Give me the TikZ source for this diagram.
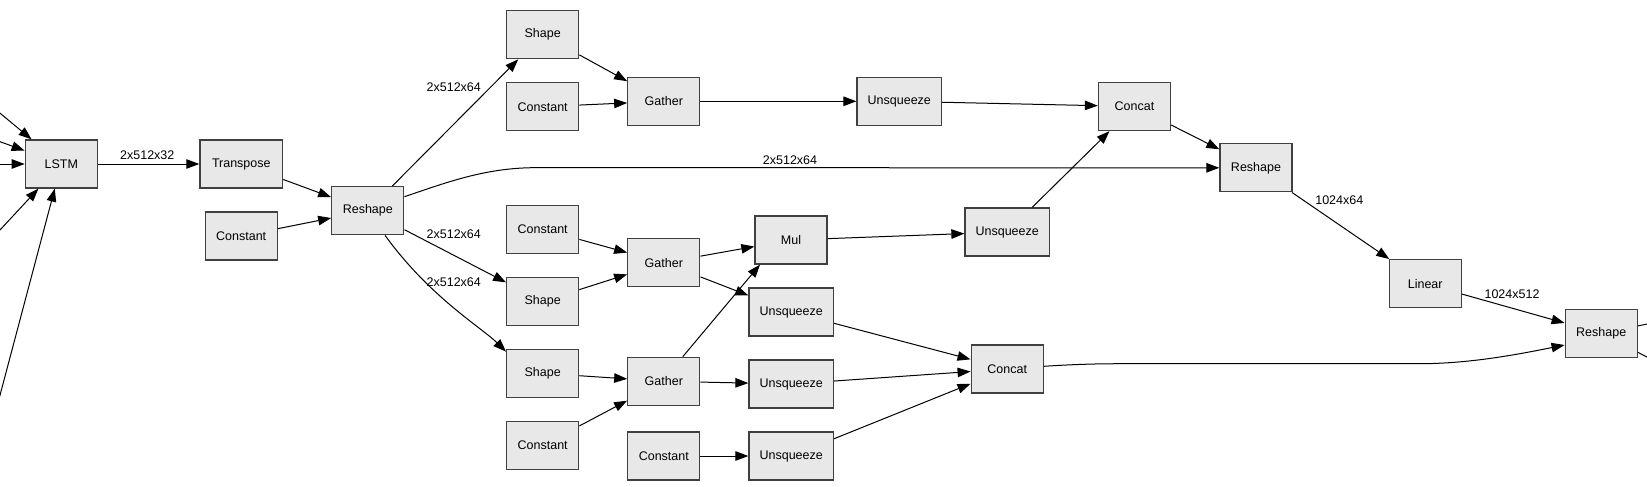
\documentclass[tikz,border=0pt]{standalone}
\usepackage{fontspec}
\setmainfont{Liberation Sans}
\usetikzlibrary{arrows.meta}
\definecolor{nodefill}{HTML}{E8E8E8}
\definecolor{nodeborder}{HTML}{404040}
\begin{document}
\begin{tikzpicture}[x=1pt,y=-1pt,
  box/.style={draw=nodeborder, fill=nodefill, line width=1.3pt, minimum width=72pt, minimum height=48pt, inner sep=0pt, font=\fontsize{12.5pt}{15pt}\selectfont},
  wide/.style={minimum width=84.4pt},
  lab/.style={inner sep=0pt, font=\fontsize{12.5pt}{15pt}\selectfont},
  edge/.style={draw=black, line width=1pt, -{Triangle[length=13pt,width=9.5pt]}},
  plainedge/.style={draw=black, line width=1pt}]
\useasboundingbox (0,0) rectangle (1647,487);
\clip (0,0) rectangle (1647,487);

% nodes
\node[box] (lstm) at (61.3,164) {LSTM};
\node[box, minimum width=82.7pt] (trans) at (241.3,164) {Transpose};
\node[box] (constL) at (241.2,236) {Constant};
\node[box] (resh1) at (367.8,210.7) {Reshape};
\node[box] (shapeT) at (542.7,34.7) {Shape};
\node[box] (constT) at (542.7,106.7) {Constant};
\node[box] (gathT) at (663.8,101.3) {Gather};
\node[box, wide] (unsqT) at (899.3,101.3) {Unsqueeze};
\node[box] (concT) at (1134.5,106.5) {Concat};
\node[box] (resh2) at (1256,167.8) {Reshape};
\node[box] (linear) at (1425.2,283.7) {Linear};
\node[box] (resh3) at (1601.2,333.3) {Reshape};
\node[box] (constM) at (542.7,229.3) {Constant};
\node[box] (gathM) at (663.8,262.7) {Gather};
\node[box] (mul) at (791,240) {Mul};
\node[box, wide] (unsqMR) at (1007.2,232) {Unsqueeze};
\node[box] (shapeM) at (542.7,301.3) {Shape};
\node[box, wide] (unsqBa) at (791.2,312) {Unsqueeze};
\node[box] (shapeL) at (542.7,373.3) {Shape};
\node[box] (gathL) at (663.8,381.3) {Gather};
\node[box, wide] (unsqBb) at (791.2,384) {Unsqueeze};
\node[box] (constLL) at (542.7,445.3) {Constant};
\node[box] (constB) at (663.8,456) {Constant};
\node[box, wide] (unsqBc) at (791.2,456) {Unsqueeze};
\node[box] (concL) at (1007.2,369) {Concat};

% off-canvas ends
\coordinate (inA) at (-40,80);
\coordinate (inB) at (-40,127.1);
\coordinate (inC) at (-40,164);
\coordinate (inD) at (-40,273);
\coordinate (inE) at (-40,546);
\coordinate (outA) at (1801,293);
\coordinate (outB) at (1801,437);

% edge labels
\node[lab] (l1) at (147.3,155.3) {2x512x32};
\node[lab] (l2) at (453.8,87.2) {2x512x64};
\node[lab] (l3) at (790,160) {2x512x64};
\node[lab] (l4) at (453.8,234.2) {2x512x64};
\node[lab] (l5) at (453.8,282.5) {2x512x64};
\node[lab] (l6) at (1339.3,200) {1024x64};
\node[lab] (l7) at (1512,294) {1024x512};

% edges
\draw[edge] (inA) -- (lstm);
\draw[edge] (inB) -- (lstm);
\draw[edge] (inC) -- (lstm);
\draw[edge] (inD) -- (lstm);
\draw[edge] (inE) -- (lstm);
\draw[edge] (lstm) -- (trans);
\draw[edge] (trans) -- (resh1);
\draw[edge] (constL) -- (resh1);
\draw[edge] (resh1) -- (shapeT);
\draw[edge] ([yshift=14pt]resh1.east) .. controls (445,183) and (485,167.7) .. (535,167.7) -- (resh2);
\draw[edge] (resh1) -- (shapeM);
\draw[edge] ([xshift=17.2pt]resh1.south) .. controls (430,297.3) and (481.5,327.5) .. ([yshift=-3pt]shapeL.north west);
\draw[edge] (shapeT) -- (gathT);
\draw[edge] (constT) -- (gathT);
\draw[edge] (gathT) -- (unsqT);
\draw[edge] (unsqT) -- (concT);
\draw[edge] (unsqMR) -- (concT);
\draw[edge] (concT) -- (resh2);
\draw[edge] (resh2) -- (linear);
\draw[edge] (linear) -- (resh3);
\draw[edge] ([yshift=2.7pt]concL.east) .. controls (1080,364) and (1100,363.7) .. (1130,363.7) -- (1420,363.7) .. controls (1470,363.7) and (1520,354) .. ([yshift=-11.7pt]resh3.west);
\draw[plainedge] (resh3) -- (outA);
\draw[plainedge] (resh3) -- (outB);
\draw[edge] (constM) -- (gathM);
\draw[edge] (shapeM) -- (gathM);
\draw[edge] (gathM) -- (mul);
\draw[edge] (gathM) -- (unsqBa);
\draw[edge] ([xshift=19pt]gathL.north) -- ([xshift=-31pt]mul.south);
\draw[edge] (shapeL) -- (gathL);
\draw[edge] (constLL) -- (gathL);
\draw[edge] (gathL) -- (unsqBb);
\draw[edge] (constB) -- (unsqBc);
\draw[edge] (mul) -- (unsqMR);
\draw[edge] (unsqBa) -- (concL);
\draw[edge] (unsqBb) -- (concL);
\draw[edge] (unsqBc) -- (concL);
\end{tikzpicture}
\end{document}
